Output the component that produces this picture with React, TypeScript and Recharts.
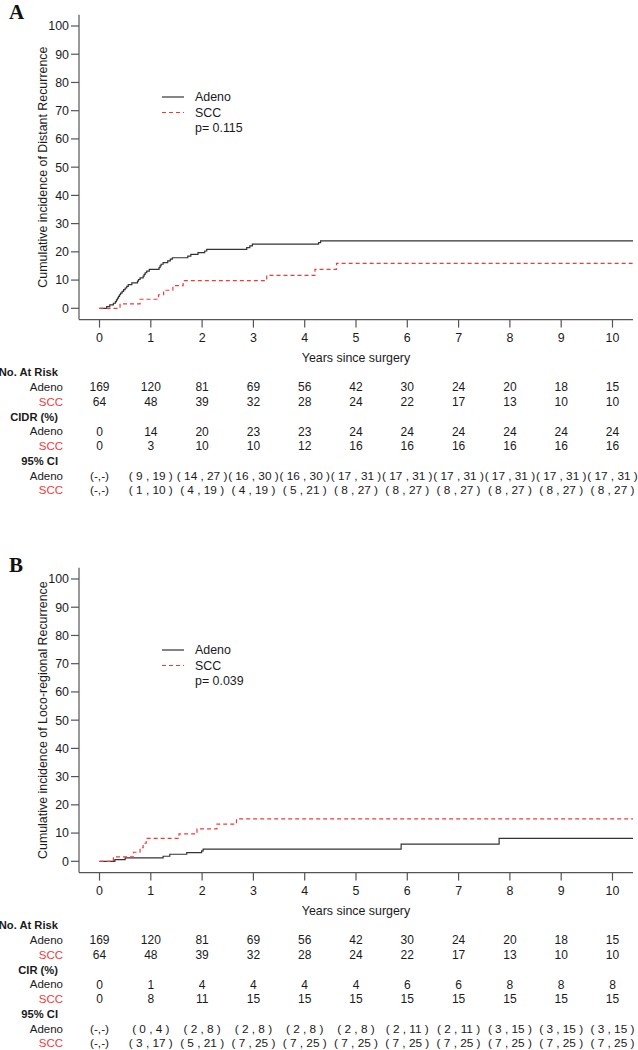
import React from 'react';
import { LineChart, Line, XAxis, YAxis, Legend } from 'recharts';

// ---------- data ----------
const years = [0, 1, 2, 3, 4, 5, 6, 7, 8, 9, 10];
const yTicks = [0, 10, 20, 30, 40, 50, 60, 70, 80, 90, 100];

const atRiskAdeno = ['169', '120', '81', '69', '56', '42', '30', '24', '20', '18', '15'];
const atRiskSCC = ['64', '48', '39', '32', '28', '24', '22', '17', '13', '10', '10'];

const cidrAdeno = ['0', '14', '20', '23', '23', '24', '24', '24', '24', '24', '24'];
const cidrSCC = ['0', '3', '10', '10', '12', '16', '16', '16', '16', '16', '16'];
const ciDistAdeno = ['(-,-)', '( 9 , 19 )', '( 14 , 27 )', '( 16 , 30 )', '( 16 , 30 )', '( 17 , 31 )', '( 17 , 31 )', '( 17 , 31 )', '( 17 , 31 )', '( 17 , 31 )', '( 17 , 31 )'];
const ciDistSCC = ['(-,-)', '( 1 , 10 )', '( 4 , 19 )', '( 4 , 19 )', '( 5 , 21 )', '( 8 , 27 )', '( 8 , 27 )', '( 8 , 27 )', '( 8 , 27 )', '( 8 , 27 )', '( 8 , 27 )'];

const cirAdeno = ['0', '1', '4', '4', '4', '4', '6', '6', '8', '8', '8'];
const cirSCC = ['0', '8', '11', '15', '15', '15', '15', '15', '15', '15', '15'];
const ciLocoAdeno = ['(-,-)', '( 0 , 4 )', '( 2 , 8 )', '( 2 , 8 )', '( 2 , 8 )', '( 2 , 8 )', '( 2 , 11 )', '( 2 , 11 )', '( 3 , 15 )', '( 3 , 15 )', '( 3 , 15 )'];
const ciLocoSCC = ['(-,-)', '( 3 , 17 )', '( 5 , 21 )', '( 7 , 25 )', '( 7 , 25 )', '( 7 , 25 )', '( 7 , 25 )', '( 7 , 25 )', '( 7 , 25 )', '( 7 , 25 )', '( 7 , 25 )'];

// step curves: [time in years, cumulative incidence %]
const distantAdeno: [number, number][] = [
  [0, 0], [0.14, 0.6], [0.2, 1.2], [0.27, 1.8], [0.31, 2.4], [0.33, 3.0], [0.35, 3.6], [0.37, 4.2],
  [0.39, 4.8], [0.41, 5.4], [0.44, 6.0], [0.47, 6.6], [0.5, 7.2], [0.53, 7.8], [0.56, 8.4], [0.63, 9.0],
  [0.74, 9.6], [0.76, 10.2], [0.79, 10.8], [0.85, 11.4], [0.87, 12.0], [0.89, 12.6], [0.92, 13.2],
  [0.97, 13.8], [1.16, 14.4], [1.18, 15.0], [1.2, 15.6], [1.24, 16.2], [1.33, 16.8], [1.38, 17.4],
  [1.42, 17.9], [1.72, 18.5], [1.78, 19.1], [1.92, 19.7], [2.05, 20.3], [2.09, 20.9], [2.87, 21.5],
  [2.93, 22.1], [2.98, 22.7], [4.27, 23.3], [4.31, 23.9], [10.4, 23.9],
];
const distantSCC: [number, number][] = [
  [0, 0], [0.4, 1.6], [0.79, 3.2], [1.15, 4.8], [1.25, 6.4], [1.43, 8.0], [1.63, 9.8],
  [3.26, 11.7], [4.2, 13.8], [4.62, 15.9], [10.4, 15.9],
];
const locoAdeno: [number, number][] = [
  [0, 0], [0.3, 0.6], [0.5, 1.2], [1.24, 1.8], [1.37, 2.5], [1.7, 3.1], [1.99, 3.7], [2.02, 4.3],
  [5.88, 6.1], [7.79, 8.1], [10.4, 8.1],
];
const locoSCC: [number, number][] = [
  [0, 0], [0.27, 1.6], [0.66, 3.2], [0.79, 4.8], [0.85, 6.4], [0.91, 8.1], [1.55, 9.7],
  [1.9, 11.5], [2.29, 13.2], [2.67, 15.0], [10.4, 15.0],
];

// ---------- styles ----------
const FONT = '"Liberation Sans", Arial, Helvetica, sans-serif';
const SERIF = '"Liberation Serif", "Times New Roman", serif';
const RED = '#f23a3a';
const AXIS = '#555';
const TXT = '#1a1a1a';
const TICK_SIZE = 8;

// offsets (px) below x-axis line for text row centres
const Y_TICKLABEL = 17.5;
const Y_TITLE = 37.5;
const ROW_Y = [52.6, 67.4, 82.1, 97.0, 111.7, 126.4, 141.2, 155.8, 170.3];

const toPts = (arr: [number, number][]) => arr.map(([t, v]) => ({ t, v }));

type PanelProps = {
  top: number;
  letter: string;
  yTitle: string;
  pText: string;
  adeno: [number, number][];
  scc: [number, number][];
  pctHeader: string;
  pctAdeno: string[];
  pctSCC: string[];
  ciAdeno: string[];
  ciSCC: string[];
};

function makeTick(p: PanelProps) {
  return (props: any) => {
    const { x, y, payload } = props;
    const v = payload.value;
    const i = years.indexOf(v);
    const axisY = y - TICK_SIZE;
    const cells: (string | undefined)[] = [
      undefined,
      atRiskAdeno[i],
      atRiskSCC[i],
      undefined,
      p.pctAdeno[i],
      p.pctSCC[i],
      undefined,
      p.ciAdeno[i],
      p.ciSCC[i],
    ];
    const headers = ['No. At Risk', undefined, undefined, p.pctHeader, undefined, undefined, '95% CI', undefined, undefined];
    const rowLabels = [undefined, 'Adeno', 'SCC', undefined, 'Adeno', 'SCC', undefined, 'Adeno', 'SCC'];
    return (
      <g>
        <text x={x} y={axisY + Y_TICKLABEL} dy="0.36em" textAnchor="middle" fontSize={12.4} fontFamily={FONT} fill={TXT}>
          {v}
        </text>
        {cells.map((c, k) =>
          c === undefined ? null : (
            <text key={k} x={x} y={axisY + ROW_Y[k]} dy="0.36em" textAnchor="middle" fontSize={k >= 7 ? 11.8 : 12} fontFamily={FONT} fill={TXT}>
              {c}
            </text>
          )
        )}
        {i === 0 &&
          headers.map((h, k) =>
            h === undefined ? null : (
              <text key={'h' + k} x={58} y={axisY + ROW_Y[k]} dy="0.36em" textAnchor="end" fontSize={11.2} fontWeight="bold" fontFamily={FONT} fill={TXT}>
                {h}
              </text>
            )
          )}
        {i === 0 &&
          rowLabels.map((h, k) =>
            h === undefined ? null : (
              <text key={'r' + k} x={63} y={axisY + ROW_Y[k]} dy="0.36em" textAnchor="end" fontSize={11.5} fontFamily={FONT} fill={h === 'SCC' ? RED : TXT}>
                {h}
              </text>
            )
          )}
      </g>
    );
  };
}

function LegendBox({ p }: { p: PanelProps }) {
  return (
    <svg width={638} height={150} style={{ position: 'absolute', left: 0, top: 0, overflow: 'visible', pointerEvents: 'none' }}>
      <text x={9} y={19} fontFamily={SERIF} fontWeight="bold" fontSize={21} fill="#111">
        {p.letter}
      </text>
      <line x1={162} x2={184} y1={97} y2={97} stroke="#333" strokeWidth={1.2} />
      <text x={195} y={97} dy="0.36em" fontSize={12.4} fontFamily={FONT} fill={TXT}>Adeno</text>
      <line x1={162} x2={184} y1={112.5} y2={112.5} stroke={RED} strokeWidth={1.2} strokeDasharray="4 3" />
      <text x={195} y={112.5} dy="0.36em" fontSize={12.4} fontFamily={FONT} fill={TXT}>SCC</text>
      <text x={195} y={128} dy="0.36em" fontSize={12.4} fontFamily={FONT} fill={TXT}>{p.pText}</text>
    </svg>
  );
}

function Panel(p: PanelProps) {
  const chartH = 553;
  const marginTop = 14.7;
  const plotH = 304.9;
  const xAxisH = chartH - marginTop - plotH;
  return (
    <div style={{ position: 'absolute', left: 0, top: p.top, width: 638, height: chartH }}>
      <LineChart width={638} height={chartH} margin={{ top: marginTop, right: 5, left: 0, bottom: 0 }}>
        <XAxis
          dataKey="t"
          type="number"
          domain={[-0.4, 10.4]}
          ticks={years}
          interval={0}
          tickSize={TICK_SIZE}
          tickMargin={0}
          height={xAxisH}
          axisLine={{ stroke: AXIS, strokeWidth: 1.2 }}
          tickLine={{ stroke: AXIS, strokeWidth: 1.2 }}
          tick={makeTick(p)}
          allowDataOverflow
          label={(lp: any) => {
            const vb = lp.viewBox || { x: 79, y: 319.6, width: 554 };
            return (
              <text x={vb.x + vb.width / 2} y={vb.y + Y_TITLE} dy="0.36em" textAnchor="middle" fontSize={12.4} fontFamily={FONT} fill={TXT}>
                Years since surgery
              </text>
            );
          }}
        />
        <YAxis
          type="number"
          domain={[-4, 104]}
          ticks={yTicks}
          interval={0}
          width={79}
          tickSize={TICK_SIZE}
          tickMargin={2}
          axisLine={{ stroke: AXIS, strokeWidth: 1.2 }}
          tickLine={{ stroke: AXIS, strokeWidth: 1.2 }}
          tick={{ fill: TXT, fontSize: 12.4, fontFamily: FONT }}
          allowDataOverflow
          label={(lp: any) => {
            const vb = lp.viewBox || { x: 0, y: 14.7, width: 79, height: 304.9 };
            const cy = vb.y + vb.height / 2;
            return (
              <text x={43} y={cy} transform={`rotate(-90 43 ${cy})`} dy="0.36em" textAnchor="middle" fontSize={12.4} fontFamily={FONT} fill={TXT}>
                {p.yTitle}
              </text>
            );
          }}
        />
        <Line
          data={toPts(p.adeno)}
          dataKey="v"
          type="stepAfter"
          stroke="#333"
          strokeWidth={1.2}
          dot={false}
          activeDot={false}
          isAnimationActive={false}
        />
        <Line
          data={toPts(p.scc)}
          dataKey="v"
          type="stepAfter"
          stroke={RED}
          strokeWidth={1.2}
          strokeDasharray="4 3"
          dot={false}
          activeDot={false}
          isAnimationActive={false}
        />
        <Legend
          layout="vertical"
          verticalAlign="middle"
          align="center"
          wrapperStyle={{ position: 'absolute', left: 0, top: 0, width: 638, height: 0 }}
          content={() => <LegendBox p={p} />}
        />
      </LineChart>
    </div>
  );
}

export default function App() {
  return (
    <div style={{ position: 'absolute', left: 0, top: 0, width: 638, height: 1050, background: '#fff', overflow: 'hidden' }}>
      <Panel
        top={0}
        letter="A"
        yTitle="Cumulative incidence of Distant Recurrence"
        pText="p= 0.115"
        adeno={distantAdeno}
        scc={distantSCC}
        pctHeader="CIDR (%)"
        pctAdeno={cidrAdeno}
        pctSCC={cidrSCC}
        ciAdeno={ciDistAdeno}
        ciSCC={ciDistSCC}
      />
      <Panel
        top={552.8}
        letter="B"
        yTitle="Cumulative incidence of Loco-regional Recurrence"
        pText="p= 0.039"
        adeno={locoAdeno}
        scc={locoSCC}
        pctHeader="CIR (%)"
        pctAdeno={cirAdeno}
        pctSCC={cirSCC}
        ciAdeno={ciLocoAdeno}
        ciSCC={ciLocoSCC}
      />
    </div>
  );
}
